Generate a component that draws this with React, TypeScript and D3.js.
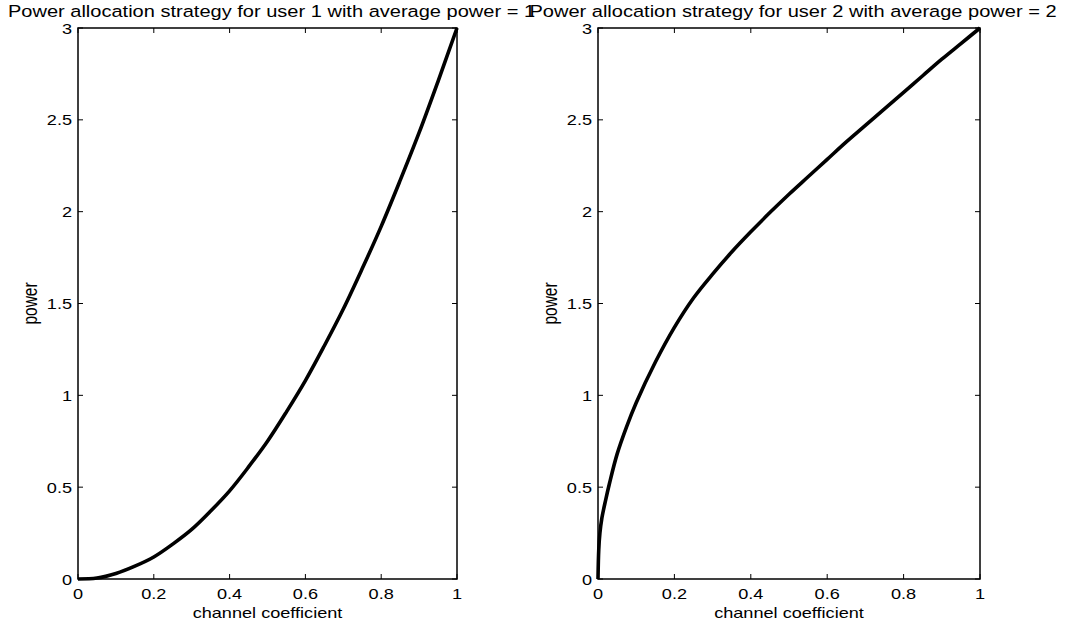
import React from "react";
import * as d3 from "d3";

const xTicks = [0, 0.2, 0.4, 0.6, 0.8, 1];
const yTicks = [0, 0.5, 1, 1.5, 2, 2.5, 3];
const xTickLabels = ["0", "0.2", "0.4", "0.6", "0.8", "1"];
const yTickLabels = ["0", "0.5", "1", "1.5", "2", "2.5", "3"];

const user1X = [0, 0.05, 0.1, 0.15, 0.2, 0.25, 0.3, 0.35, 0.4, 0.45, 0.5, 0.55, 0.6, 0.65, 0.7, 0.75, 0.8, 0.85, 0.9, 0.95, 1];
const user1Y = [0, 0.005, 0.03, 0.07, 0.12, 0.19, 0.27, 0.37, 0.48, 0.61, 0.75, 0.91, 1.08, 1.27, 1.47, 1.69, 1.92, 2.17, 2.43, 2.71, 3];

const user2X = [0, 0.002, 0.005, 0.01, 0.02, 0.03, 0.05, 0.075, 0.1, 0.15, 0.2, 0.25, 0.3, 0.35, 0.4, 0.45, 0.5, 0.55, 0.6, 0.65, 0.7, 0.75, 0.8, 0.85, 0.9, 0.95, 1];
const user2Y = [0, 0.16, 0.25, 0.33, 0.43, 0.52, 0.68, 0.83, 0.96, 1.18, 1.37, 1.53, 1.66, 1.78, 1.89, 1.995, 2.095, 2.19, 2.285, 2.38, 2.47, 2.56, 2.65, 2.74, 2.83, 2.915, 3.0];

const titles = [
  "Power allocation strategy for user 1 with average power = 1",
  "Power allocation strategy for user 2 with average power = 2",
];

const FONT = "'Liberation Sans', Arial, Helvetica, sans-serif";
const SX = 1.25;

function T({ x, y, size, anchor, sx = SX, children }: { x: number; y: number; size: number; anchor: string; sx?: number; children: React.ReactNode }) {
  return (
    <text
      transform={`translate(${x},${y}) scale(${sx},1)`}
      textAnchor={anchor}
      fontSize={size}
      fontFamily={FONT}
      fill="#000"
    >
      {children}
    </text>
  );
}

type PanelProps = { left: number; right: number; top: number; bottom: number; xs: number[]; ys: number[]; title: string };

function Panel({ left, right, top, bottom, xs, ys, title }: PanelProps) {
  const x = d3.scaleLinear().domain([0, 1]).range([left, right]);
  const y = d3.scaleLinear().domain([0, 3]).range([bottom, top]);
  const pts: [number, number][] = xs.map((v, i) => [v, ys[i]]);
  const line = d3
    .line<[number, number]>()
    .x((d) => x(d[0]))
    .y((d) => y(d[1]))
    .curve(d3.curveCatmullRom.alpha(0.5));
  const tl = 5;
  return (
    <g>
      <T x={(left + right) / 2 + 4} y={17} size={16.5} anchor="middle" sx={1.215}>
        {title}
      </T>
      <path d={line(pts) || ""} fill="none" stroke="#000" strokeWidth={3.6} strokeLinejoin="round" />
      <rect x={left} y={top} width={right - left} height={bottom - top} fill="none" stroke="#000" strokeWidth={1.5} />
      {xTicks.map((t, i) => (
        <g key={"x" + i}>
          <line x1={x(t)} x2={x(t)} y1={bottom} y2={bottom - tl} stroke="#000" strokeWidth={1} />
          <line x1={x(t)} x2={x(t)} y1={top} y2={top + tl} stroke="#000" strokeWidth={1} />
          <T x={x(t)} y={bottom + 20} size={14.5} anchor="middle">
            {xTickLabels[i]}
          </T>
        </g>
      ))}
      {yTicks.map((t, i) => (
        <g key={"y" + i}>
          <line x1={left} x2={left + tl} y1={y(t)} y2={y(t)} stroke="#000" strokeWidth={1} />
          <line x1={right} x2={right - tl} y1={y(t)} y2={y(t)} stroke="#000" strokeWidth={1} />
          <T x={left - 6} y={y(t) + 5.5} size={14.5} anchor="end">
            {yTickLabels[i]}
          </T>
        </g>
      ))}
      <T x={(left + right) / 2} y={bottom + 39} size={14.5} anchor="middle">
        channel coefficient
      </T>
      <text
        transform={`translate(${left - 41},${(top + bottom) / 2}) rotate(-90) scale(1,${SX})`}
        textAnchor="middle"
        fontSize={15.5}
        fontFamily={FONT}
        fill="#000"
      >
        power
      </text>
    </g>
  );
}

export default function App() {
  return (
    <svg width={1066} height={628} style={{ position: "absolute", left: 0, top: 0, background: "#fff" }}>
      <rect width={1066} height={628} fill="#fff" />
      <Panel left={78} right={457} top={28} bottom={579} xs={user1X} ys={user1Y} title={titles[0]} />
      <Panel left={598} right={980} top={28} bottom={579} xs={user2X} ys={user2Y} title={titles[1]} />
    </svg>
  );
}
